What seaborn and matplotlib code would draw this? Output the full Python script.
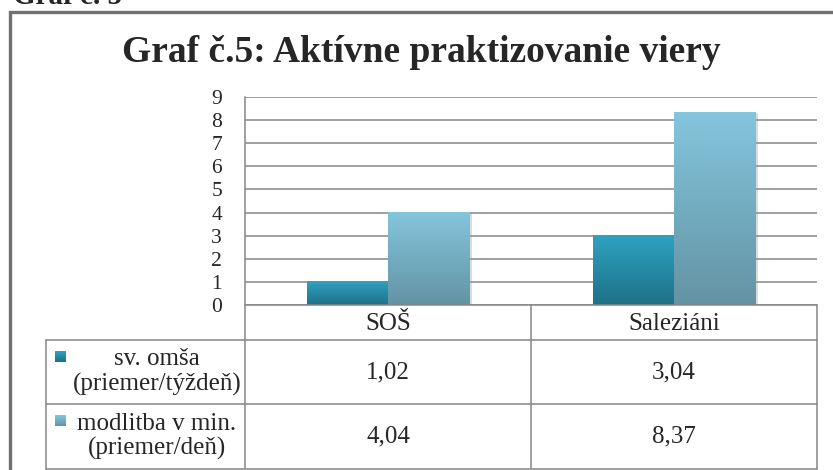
import numpy as np
import pandas as pd
import matplotlib
matplotlib.use("Agg")
import matplotlib.pyplot as plt
import matplotlib.patheffects as pe
from matplotlib.colors import LinearSegmentedColormap
import seaborn as sns

# data
categories = ["SOŠ", "Saleziáni"]
series = ["sv. omša\n(priemer/týždeň)", "modlitba v min.\n(priemer/deň)"]
omsa = [1.02, 3.04]
modlitba = [4.04, 8.37]
value_labels = [["1,02", "3,04"], ["4,04", "8,37"]]
title = "Graf č.5: Aktívne praktizovanie viery"

df = pd.DataFrame({
    "kategoria": categories * 2,
    "seria": [series[0]] * 2 + [series[1]] * 2,
    "hodnota": omsa + modlitba,
})

top_cols = ["#30A2C2", "#84C6DE"]
bot_cols = ["#1D7186", "#6393A3"]

sns.set_style("white")
plt.rcParams["font.family"] = ["Liberation Serif", "DejaVu Serif"]

W, H = 833, 470
fig = plt.figure(figsize=(W / 100, H / 100), dpi=100)
fig.patch.set_facecolor("white")

# plot area in pixel coords
L, R, T, B = 245, 817, 97, 305
ax = fig.add_axes([L / W, 1 - B / H, (R - L) / W, (B - T) / H])

sns.barplot(data=df, x="kategoria", y="hodnota", hue="seria",
            palette=top_cols, width=0.567, ax=ax, legend=False,
            saturation=1, linewidth=0)

ax.set_xlim(-0.5, 1.5)
ax.set_ylim(0, 9)
ax.set_yticks(range(10))
ax.set_yticklabels([str(i) for i in range(10)], fontsize=15.5)
ax.tick_params(axis="y", length=0, pad=16.5)
ax.set_xticks([])
ax.set_xlabel("")
ax.set_ylabel("")
ax.yaxis.grid(True, color="#868686", linewidth=1.1)
ax.set_axisbelow(True)
for s in ["top", "right", "bottom"]:
    ax.spines[s].set_visible(False)
ax.spines["left"].set_color("#868686")
ax.spines["left"].set_linewidth(1.1)

# vertical gradients on bars
grad = np.linspace(0, 1, 256).reshape(-1, 1)
for i, cont in enumerate(ax.containers):
    cmap = LinearSegmentedColormap.from_list("g%d" % i, [top_cols[i], bot_cols[i]])
    for bar in cont:
        bar.set_path_effects([pe.SimplePatchShadow(offset=(2, -1), shadow_rgbFace="#999999", alpha=0.35), pe.Normal()])
        x0, y0 = bar.get_x(), bar.get_y()
        w, h = bar.get_width(), bar.get_height()
        im = ax.imshow(grad, cmap=cmap, aspect="auto", extent=[x0, x0 + w, y0, y0 + h],
                       origin="upper", zorder=bar.get_zorder() + 0.1)
        im.set_clip_path(bar)
ax.set_xlim(-0.5, 1.5)
ax.set_ylim(0, 9)

# overlay for frame, title and data table
ov = fig.add_axes([0, 0, 1, 1])
ov.set_xlim(0, W)
ov.set_ylim(H, 0)
ov.axis("off")
ov.patch.set_alpha(0)

gray = "#868686"
ov.plot([10.5, 10.5, W], [H, 11.5, 11.5], color="#707070", linewidth=2.4, solid_joinstyle="miter")
ov.text(13, 4, "Graf č. 5", fontsize=21, fontweight="bold", ha="left", va="baseline")
ov.text(421, 62, title, fontsize=27, fontweight="bold", ha="center", va="baseline")

# table grid
mid = 531
rows = [305, 340, 404, 469]
ov.plot([L, R], [rows[0], rows[0]], color=gray, linewidth=1.1)
for y in rows[1:]:
    ov.plot([46, R], [y, y], color=gray, linewidth=1.1)
ov.plot([46, 46], [rows[1], rows[3]], color=gray, linewidth=1.1)
for x in [L, mid, R]:
    ov.plot([x, x], [rows[0], rows[3]], color=gray, linewidth=1.1)

col_centers = [(L + mid) / 2, (mid + R) / 2]
for j, cat in enumerate(categories):
    ov.text(col_centers[j], (rows[0] + rows[1]) / 2 + 1, cat, fontsize=18, ha="center", va="center")

for i, name in enumerate(series):
    yc = (rows[i + 1] + rows[i + 2]) / 2
    ov.imshow(grad, cmap=LinearSegmentedColormap.from_list("m%d" % i, [top_cols[i], bot_cols[i]]),
              aspect="auto", extent=[55, 66, yc - 10, yc - 21], origin="upper")
    ov.text(157, yc, name, fontsize=18, ha="center", va="center", linespacing=1.13)
    for j in range(len(categories)):
        ov.text(col_centers[j], yc, value_labels[i][j], fontsize=18, ha="center", va="center")
ov.set_xlim(0, W)
ov.set_ylim(H, 0)

fig.savefig("out.png", dpi=100)
